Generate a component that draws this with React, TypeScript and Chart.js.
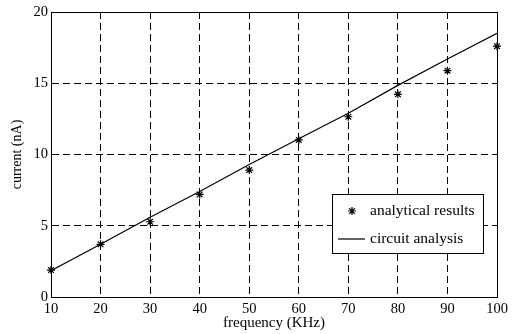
import React, { useEffect, useRef } from "react";
import { Chart, registerables } from "chart.js";

Chart.register(...registerables);

const frequencies = [10, 20, 30, 40, 50, 60, 70, 80, 90, 100];
const analyticalResults = [1.89, 3.7, 5.28, 7.2, 8.91, 11.02, 12.65, 14.22, 15.88, 17.6];
const circuitAnalysis = [1.85, 3.7, 5.6, 7.4, 9.3, 11.1, 12.9, 14.85, 16.7, 18.5];
const seriesLabels = ["analytical results", "circuit analysis"];
const xTitle = "frequency (KHz)";
const yTitle = "current (nA)";

const FONT = "'Liberation Serif', 'Times New Roman', serif";

const framePlugin = {
  id: "frameAndLegend",
  afterDatasetsDraw(chart: any) {
    const { ctx, chartArea } = chart;
    const { left, right, top, bottom } = chartArea;
    ctx.save();
    ctx.setLineDash([]);
    ctx.strokeStyle = "#000";
    ctx.lineWidth = 1;
    ctx.strokeRect(Math.round(left) + 0.5, Math.round(top) + 0.5, Math.round(right - left), Math.round(bottom - top));

    // legend box
    const bx = right - 165;
    const by = bottom - 103;
    const bw = 151;
    const bh = 59;
    ctx.fillStyle = "#fff";
    ctx.fillRect(bx, by, bw, bh);
    ctx.strokeRect(Math.round(bx) + 0.5, Math.round(by) + 0.5, bw, bh);

    ctx.font = `15.5px ${FONT}`;
    ctx.fillStyle = "#000";
    ctx.textBaseline = "middle";
    ctx.textAlign = "left";
    const textX = bx + 38;
    const y1 = by + 17;
    const y2 = by + 45;
    // star marker
    const mx = bx + 20;
    const r = 4;
    ctx.lineWidth = 1.2;
    ctx.beginPath();
    for (let i = 0; i < 4; i++) {
      const a = (i * Math.PI) / 4;
      ctx.moveTo(mx - r * Math.cos(a), y1 - r * Math.sin(a));
      ctx.lineTo(mx + r * Math.cos(a), y1 + r * Math.sin(a));
    }
    ctx.stroke();
    ctx.fillText(seriesLabels[0], textX, y1);
    // line sample
    ctx.lineWidth = 1.2;
    ctx.beginPath();
    ctx.moveTo(bx + 6, y2);
    ctx.lineTo(bx + 33, y2);
    ctx.stroke();
    ctx.fillText(seriesLabels[1], textX, y2);
    ctx.restore();
  },
};

export default function App() {
  const ref = useRef<HTMLCanvasElement | null>(null);
  useEffect(() => {
    document.body.style.margin = "0";
    const canvas = ref.current!;
    const chart = new Chart(canvas, {
      type: "scatter",
      data: {
        datasets: [
          {
            label: seriesLabels[0],
            data: frequencies.map((x, i) => ({ x, y: analyticalResults[i] })),
            showLine: false,
            pointStyle: "star",
            pointRadius: 4,
            pointBorderWidth: 1.2,
            borderColor: "#000",
            backgroundColor: "#000",
            clip: false,
            order: 1,
          },
          {
            label: seriesLabels[1],
            data: frequencies.map((x, i) => ({ x, y: circuitAnalysis[i] })),
            showLine: true,
            pointRadius: 0,
            borderColor: "#000",
            borderWidth: 1.2,
            order: 2,
          },
        ],
      },
      options: {
        animation: false,
        responsive: false,
        maintainAspectRatio: false,
        layout: { padding: { top: 12, right: 16, left: 0, bottom: 0 } },
        plugins: { legend: { display: false }, tooltip: { enabled: false } },
        scales: {
          x: {
            type: "linear",
            min: 10,
            max: 100,
            ticks: {
              stepSize: 10,
              padding: 3,
              color: "#000",
              font: { family: FONT, size: 14.5 },
              maxRotation: 0,
            },
            grid: { color: "#000", lineWidth: 1, drawTicks: false },
            border: { display: true, color: "#000", dash: [7, 4] },
            title: {
              display: true,
              text: xTitle,
              color: "#000",
              font: { family: FONT, size: 15 },
              padding: { top: 0, bottom: 2 },
            },
            afterFit: (s: any) => {
              s.height = 37;
            },
          },
          y: {
            min: 0,
            max: 20,
            ticks: {
              stepSize: 5,
              padding: 3,
              color: "#000",
              font: { family: FONT, size: 14.5 },
            },
            grid: { color: "#000", lineWidth: 1, drawTicks: false },
            border: { display: true, color: "#000", dash: [7, 4] },
            title: {
              display: true,
              text: yTitle,
              color: "#000",
              font: { family: FONT, size: 14 },
              padding: { top: 9, bottom: 0 },
            },
            afterFit: (s: any) => {
              s.width = 51;
            },
          },
        },
      },
      plugins: [framePlugin],
    });
    return () => chart.destroy();
  }, []);
  return <canvas ref={ref} width={513} height={334} style={{ display: "block" }} />;
}
